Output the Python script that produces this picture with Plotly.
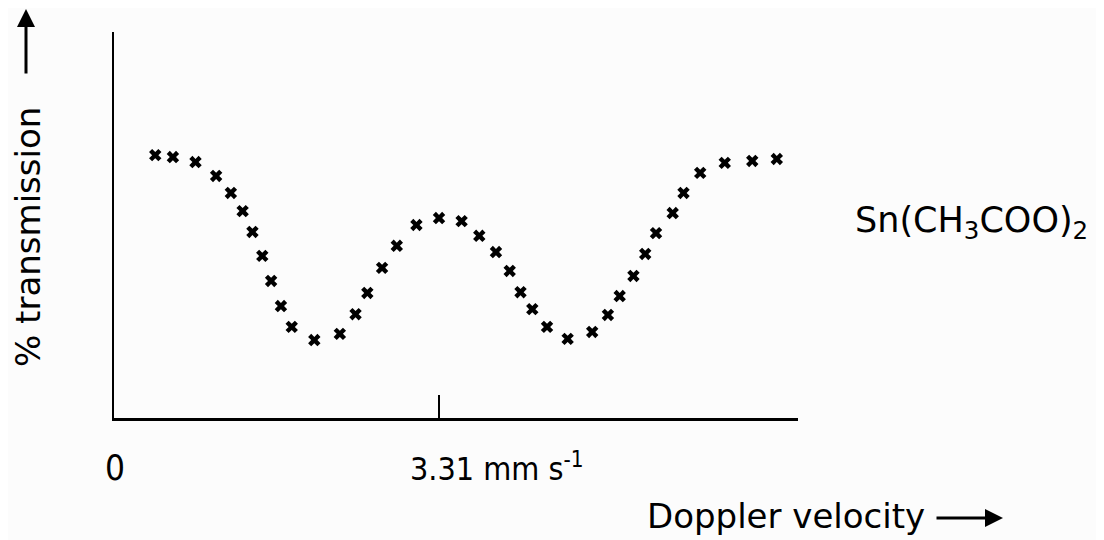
import plotly.graph_objects as go

# Doppler velocity (mm/s) and % transmission (arbitrary scale 0-100)
velocity = [0.42, 0.60, 0.83, 1.04, 1.19, 1.31, 1.41, 1.51, 1.60, 1.70, 1.81, 2.04, 2.30,
            2.46, 2.58, 2.73, 2.88, 3.08, 3.31, 3.54, 3.72, 3.89, 4.03, 4.14, 4.26, 4.41,
            4.62, 4.87, 5.03, 5.15, 5.29, 5.41, 5.52, 5.69, 5.80, 5.97, 6.22, 6.50, 6.75]
transmission = [68.1, 67.6, 66.3, 62.7, 58.3, 53.6, 48.2, 42.0, 35.5, 29.0, 23.6, 20.2, 21.8,
                26.9, 32.4, 38.9, 44.6, 50.0, 51.8, 51.0, 47.2, 43.0, 38.1, 32.6, 28.2, 23.6,
                20.5, 22.3, 26.7, 31.6, 36.8, 42.5, 47.9, 53.1, 58.3, 63.5, 66.1, 66.6, 67.1]
tick_values = [3.31]
x_range = [0, 6.966]
y_range = [0, 100]

FONT = "DejaVu Sans"
FONT_C = "DejaVu Sans Condensed"
L, R, T, B = 114, 798, 32, 418
OFF = 8  # default page body margin
W, H = 1104, 540


def px(xp):
    return (xp - L) / (R - L)


def py(yp):
    return (B - yp) / (B - T)


fig = go.Figure()
fig.add_trace(go.Scatter(
    x=velocity, y=transmission, mode="markers",
    marker=dict(symbol="x", size=11, color="black", line=dict(width=0)),
    showlegend=False, hoverinfo="skip"))

fig.update_layout(
    width=W, height=H,
    margin=dict(l=L - OFF, r=W - R + OFF, t=T - OFF, b=H - B + OFF),
    paper_bgcolor="#fcfcfc", plot_bgcolor="#fcfcfc",
    font=dict(family=FONT, color="black"),
    xaxis=dict(range=x_range, showgrid=False, zeroline=False, showline=True,
               linecolor="black", linewidth=3, ticks="inside", ticklen=23, tickwidth=2,
               tickcolor="black", tickvals=tick_values, showticklabels=False),
    yaxis=dict(range=y_range, showgrid=False, zeroline=False, showline=True,
               linecolor="black", linewidth=2, ticks="", showticklabels=False),
)

ann = []
ann.append(dict(text="0", x=px(115), y=py(468), xref="paper", yref="paper",
                showarrow=False, font=dict(size=35, family=FONT_C), xanchor="center", yanchor="middle"))
ann.append(dict(text="3.31 mm s<sup>-1</sup>", x=px(408), y=py(467), xref="paper", yref="paper",
                showarrow=False, font=dict(size=32, family=FONT_C), xanchor="left", yanchor="middle"))
ann.append(dict(text="Doppler velocity", x=px(645), y=py(516), xref="paper", yref="paper",
                showarrow=False, font=dict(size=34, family=FONT), xanchor="left", yanchor="middle"))
ann.append(dict(text="", x=px(1003), y=py(518), ax=-68, ay=0,
                xref="paper", yref="paper", axref="pixel", ayref="pixel",
                showarrow=True, arrowhead=2, arrowsize=1.2, arrowwidth=3, arrowcolor="black"))
ann.append(dict(text="Sn(CH<sub>3</sub>COO)<sub>2</sub>", x=px(853), y=py(222), xref="paper", yref="paper",
                showarrow=False, font=dict(size=35, family=FONT), xanchor="left", yanchor="middle"))
ann.append(dict(text="% transmission", x=px(28), y=py(237), xref="paper", yref="paper",
                showarrow=False, textangle=-90, font=dict(size=34, family=FONT),
                xanchor="center", yanchor="middle", borderpad=0))
ann.append(dict(text="", x=px(26), y=py(6), ax=0, ay=69,
                xref="paper", yref="paper", axref="pixel", ayref="pixel",
                showarrow=True, arrowhead=2, arrowsize=1.2, arrowwidth=3, arrowcolor="black"))
fig.update_layout(annotations=ann)

fig.write_html("out.html")
